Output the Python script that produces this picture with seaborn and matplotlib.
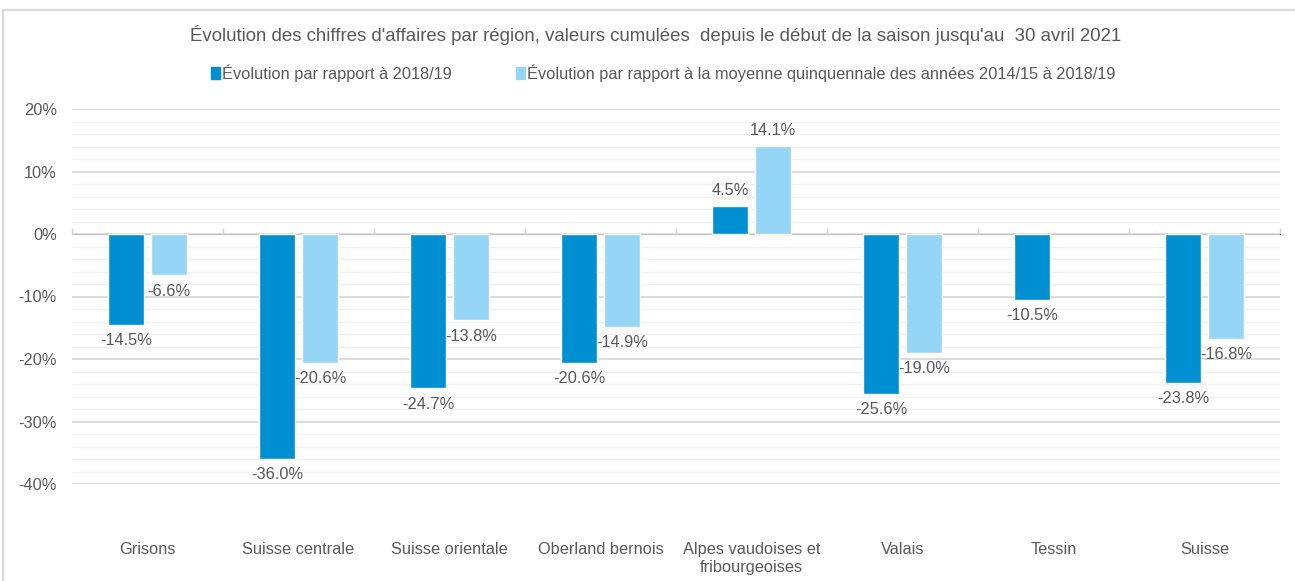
import numpy as np
import pandas as pd
import seaborn as sns
import matplotlib.pyplot as plt
from matplotlib.patches import Patch, Rectangle
from matplotlib.ticker import MultipleLocator, FuncFormatter

# data
regions = ["Grisons", "Suisse centrale", "Suisse orientale", "Oberland bernois",
           "Alpes vaudoises et\nfribourgeoises", "Valais", "Tessin", "Suisse"]
evol_1819 = [-14.5, -36.0, -24.7, -20.6, 4.5, -25.6, -10.5, -23.8]
evol_moy5 = [-6.6, -20.6, -13.8, -14.9, 14.1, -19.0, np.nan, -16.8]

lab_1819 = "Évolution par rapport à 2018/19"
lab_moy5 = "Évolution par rapport à la moyenne quinquennale des années 2014/15 à 2018/19"
title = "Évolution des chiffres d'affaires par région, valeurs cumulées  depuis le début de la saison jusqu'au  30 avril 2021"

dark = "#0090D1"
light = "#95D5F5"
grey_txt = "#595959"

oData = pd.DataFrame({
    "region": regions * 2,
    "serie": [lab_1819] * len(regions) + [lab_moy5] * len(regions),
    "valeur": evol_1819 + evol_moy5,
}).dropna()

sns.set_style("white")
plt.rcParams["font.family"] = ["Liberation Sans", "DejaVu Sans"]

fig = plt.figure(figsize=(12.95, 5.81), dpi=100)
ax = fig.add_axes([72 / 1295, 1 - 484 / 581, 1208 / 1295, 375 / 581])

sns.barplot(data=oData, x="region", y="valeur", hue="serie", order=regions,
            hue_order=[lab_1819, lab_moy5], palette={lab_1819: dark, lab_moy5: light},
            width=0.57, gap=0.165, saturation=1, errorbar=None, ax=ax, zorder=3,
            legend=False)

for oCont in ax.containers:
    ax.bar_label(oCont, fmt="{:.1f}%", padding=6, fontsize=11.8, color=grey_txt)

# axes
ax.set_xlim(-0.5, 7.5)
ax.set_ylim(-40, 20)
ax.yaxis.set_major_locator(MultipleLocator(10))
ax.yaxis.set_minor_locator(MultipleLocator(2))
ax.yaxis.set_major_formatter(FuncFormatter(lambda v, p: f"{v:.0f}%"))
ax.grid(axis="y", which="major", color="#D9D9D9", linewidth=1.3, zorder=0)
ax.grid(axis="y", which="minor", color="#F0F0F0", linewidth=1.0, zorder=0)
ax.set_axisbelow(True)
for s in ax.spines.values():
    s.set_visible(False)
ax.tick_params(axis="y", which="both", length=0, pad=11, labelsize=11.8, labelcolor=grey_txt)
ax.tick_params(axis="x", length=0, pad=42, labelsize=11.8, labelcolor=grey_txt)
ax.set_xlabel("")
ax.set_ylabel("")

# zero line with category separators
oZero = ax.secondary_xaxis(40 / 60)
oZero.set_xticks(np.arange(-0.5, 8, 1))
oZero.set_xticklabels([])
oZero.tick_params(axis="x", length=4, width=1, color="#D9D9D9", direction="out")
oZero.spines["bottom"].set_color("#D9D9D9")
oZero.spines["bottom"].set_linewidth(1.3)

# title and legend
fig.text(656 / 1295, 1 - 35 / 581, title, ha="center", va="center", fontsize=13.4, color=grey_txt)
handles = [Patch(color=dark, label=lab_1819), Patch(color=light, label=lab_moy5)]
fig.legend(handles=handles, loc="center", bbox_to_anchor=(663 / 1295, 1 - 73 / 581), ncol=2,
           frameon=False, fontsize=11.8, labelcolor=grey_txt, handlelength=0.55,
           handleheight=0.8, handletextpad=0.15, columnspacing=3.9)

# outer frame
fig.patches.append(Rectangle((3 / 1295, -0.1), 1.2, 1 - 10 / 581 + 0.1, transform=fig.transFigure,
                             fill=False, edgecolor="#D9D9D9", linewidth=1.6))

fig.savefig("out.png", dpi=100)
